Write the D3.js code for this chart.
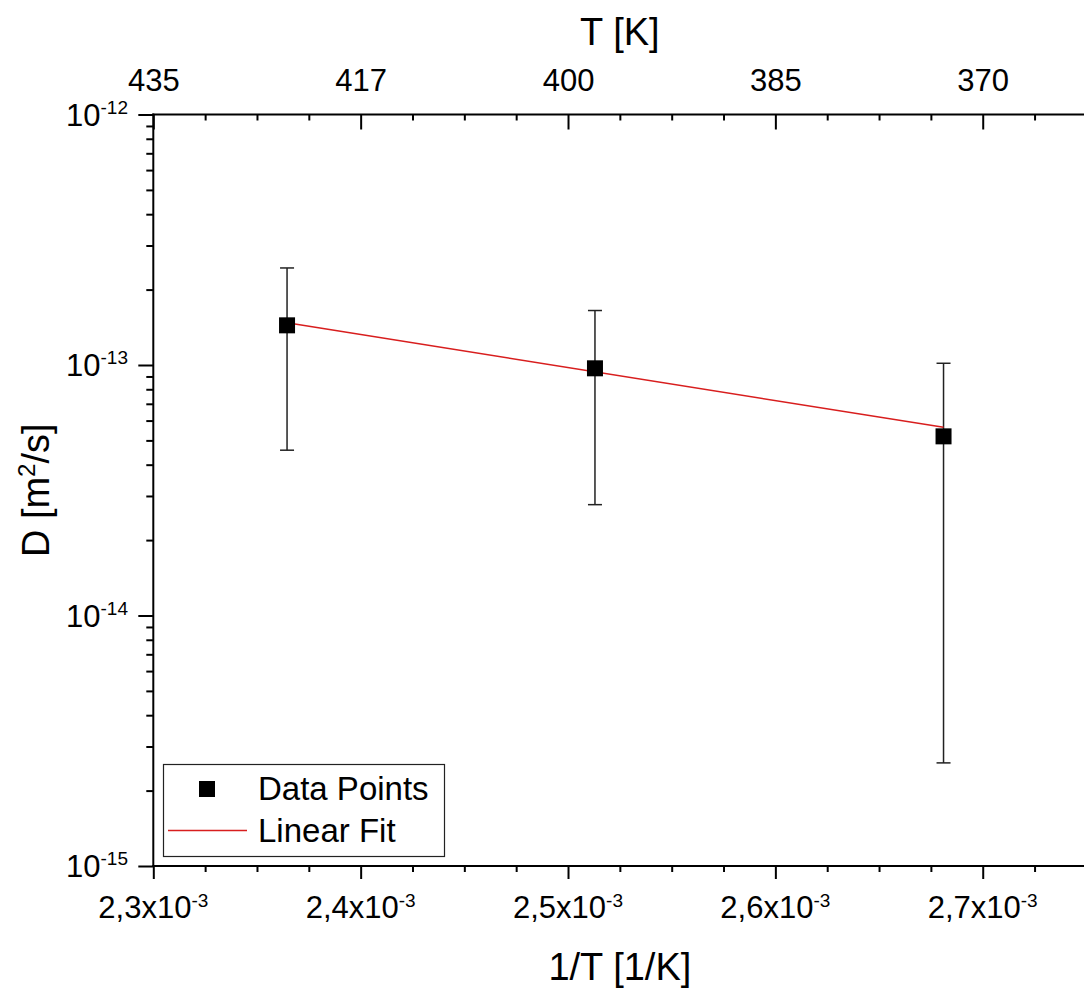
<!DOCTYPE html>
<html>
<head>
<meta charset="utf-8">
<script src="https://cdn.jsdelivr.net/npm/d3@7/dist/d3.min.js"></script>
<style>
  html, body { margin: 0; padding: 0; background: #fff; }
  svg { display: block; font-family: "Liberation Sans", Arial, sans-serif; }
</style>
</head>
<body>
<svg id="chart" width="1084" height="989"></svg>
<script>
// data
const invT    = [2.3645e-3, 2.513e-3, 2.6811e-3];
const D       = [1.44e-13, 9.7e-14, 5.19e-14];
const errHigh = [2.44e-13, 1.65e-13, 1.016e-13];
const errLow  = [4.57e-14, 2.77e-14, 2.58e-15];
const fitX    = [2.3645e-3, 2.6811e-3];
const fitD    = [1.475e-13, 5.64e-14];

const xTicks    = [2.3e-3, 2.4e-3, 2.5e-3, 2.6e-3, 2.7e-3];
const xTickText = ["2,3", "2,4", "2,5", "2,6", "2,7"];
const topLabels = ["435", "417", "400", "385", "370"];
const yTicks    = [1e-15, 1e-14, 1e-13, 1e-12];
const yExp      = ["-15", "-14", "-13", "-12"];

const svg = d3.select("#chart");
const pl = 153.3, pr = 1086.4, pt = 114.5, pb = 866;

const x = d3.scaleLinear().domain([2.3e-3, 2.75e-3]).range([pl, pr]);
const y = d3.scaleLog().domain([1e-15, 1e-12]).range([pb, pt]);

const xMinor = d3.range(0, 19).map(i => 2.3e-3 + i * 0.025e-3)
  .filter(v => !xTicks.some(t => Math.abs(t - v) < 1e-9));
const yMinor = [];
[-15, -14, -13].forEach(e => { for (let k = 2; k <= 9; k++) yMinor.push(k * Math.pow(10, e)); });

function styleAxis(g) {
  g.select(".domain").remove();
  g.selectAll("line").attr("stroke", "#000").attr("stroke-width", 2);
}

// bottom axis
svg.append("g").attr("transform", `translate(0,${pb})`)
  .call(d3.axisBottom(x).tickValues(xTicks).tickSize(13).tickFormat("")).call(styleAxis);
svg.append("g").attr("transform", `translate(0,${pb})`)
  .call(d3.axisBottom(x).tickValues(xMinor).tickSize(6).tickFormat("")).call(styleAxis);

// top axis, ticks inward
svg.append("g").attr("transform", `translate(0,${pt})`)
  .call(d3.axisTop(x).tickValues(xTicks).tickSize(-15).tickPadding(24)
    .tickFormat((d, i) => topLabels[i]))
  .call(styleAxis)
  .selectAll("text").attr("font-size", 31).attr("fill", "#000")
  .attr("font-family", "Liberation Sans, Arial, sans-serif");
svg.append("g").attr("transform", `translate(0,${pt})`)
  .call(d3.axisTop(x).tickValues(xMinor).tickSize(-6).tickFormat("")).call(styleAxis);

// left axis
svg.append("g").attr("transform", `translate(${pl},0)`)
  .call(d3.axisLeft(y).tickValues(yTicks).tickSize(15).tickFormat("")).call(styleAxis);
svg.append("g").attr("transform", `translate(${pl},0)`)
  .call(d3.axisLeft(y).tickValues(yMinor).tickSize(7).tickFormat("")).call(styleAxis);

// frame lines
svg.append("line").attr("x1", pl).attr("x2", pl).attr("y1", pt - 1).attr("y2", pb + 1)
  .attr("stroke", "#000").attr("stroke-width", 2);
svg.append("line").attr("x1", pl - 1).attr("x2", pr).attr("y1", pb).attr("y2", pb)
  .attr("stroke", "#000").attr("stroke-width", 2);
svg.append("line").attr("x1", pl - 1).attr("x2", pr).attr("y1", pt).attr("y2", pt)
  .attr("stroke", "#000").attr("stroke-width", 2);
svg.append("line").attr("x1", pr).attr("x2", pr).attr("y1", pt).attr("y2", pb)
  .attr("stroke", "#000").attr("stroke-width", 2);

// bottom tick labels
xTicks.forEach((t, i) => {
  const txt = svg.append("text").attr("x", x(t)).attr("y", pb + 52)
    .attr("text-anchor", "middle").attr("font-size", 31);
  txt.append("tspan").text(xTickText[i] + "x10");
  txt.append("tspan").attr("dy", -11).attr("font-size", 19).text("-3");
});

// left tick labels
yTicks.forEach((t, i) => {
  const txt = svg.append("text").attr("x", 128).attr("y", y(t) + 11)
    .attr("text-anchor", "end").attr("font-size", 31);
  txt.append("tspan").text("10");
  txt.append("tspan").attr("dy", -12).attr("font-size", 19).text(yExp[i]);
});

// axis titles
svg.append("text").attr("x", (pl + pr) / 2).attr("y", 980)
  .attr("text-anchor", "middle").attr("font-size", 38).text("1/T [1/K]");
svg.append("text").attr("x", (pl + pr) / 2).attr("y", 45)
  .attr("text-anchor", "middle").attr("font-size", 38).text("T [K]");
const yt = svg.append("text")
  .attr("transform", `translate(49,${(pt + pb) / 2}) rotate(-90)`)
  .attr("text-anchor", "middle").attr("font-size", 38);
yt.append("tspan").text("D [m");
yt.append("tspan").attr("dy", -14).attr("font-size", 24).text("2");
yt.append("tspan").attr("dy", 14).text("/s]");

// error bars
const capW = 14;
invT.forEach((v, i) => {
  const cx = x(v);
  svg.append("line").attr("x1", cx).attr("x2", cx)
    .attr("y1", y(errHigh[i])).attr("y2", y(errLow[i]))
    .attr("stroke", "#222").attr("stroke-width", 1.5);
  [errHigh[i], errLow[i]].forEach(e => {
    svg.append("line").attr("x1", cx - capW / 2).attr("x2", cx + capW / 2)
      .attr("y1", y(e)).attr("y2", y(e))
      .attr("stroke", "#222").attr("stroke-width", 1.5);
  });
});

// fit line
svg.append("path")
  .attr("d", d3.line().x(d => x(d[0])).y(d => y(d[1]))(fitX.map((v, i) => [v, fitD[i]])))
  .attr("fill", "none").attr("stroke", "#d81e1e").attr("stroke-width", 1.5);

// data points
const sq = 16;
svg.selectAll(".pt").data(invT).enter().append("rect").attr("class", "pt")
  .attr("x", d => x(d) - sq / 2)
  .attr("y", (d, i) => y(D[i]) - sq / 2)
  .attr("width", sq).attr("height", sq).attr("fill", "#000");

// legend
const lg = svg.append("g");
lg.append("rect").attr("x", 163.5).attr("y", 764.5).attr("width", 281).attr("height", 92)
  .attr("fill", "#fff").attr("stroke", "#222").attr("stroke-width", 1.2);
lg.append("rect").attr("x", 207 - sq / 2).attr("y", 789 - sq / 2)
  .attr("width", sq).attr("height", sq).attr("fill", "#000");
lg.append("text").attr("x", 258).attr("y", 799.5).attr("font-size", 33).text("Data Points");
lg.append("line").attr("x1", 168).attr("x2", 247).attr("y1", 830.5).attr("y2", 830.5)
  .attr("stroke", "#d81e1e").attr("stroke-width", 1.5);
lg.append("text").attr("x", 258).attr("y", 842).attr("font-size", 33).text("Linear Fit");
</script>
</body>
</html>
